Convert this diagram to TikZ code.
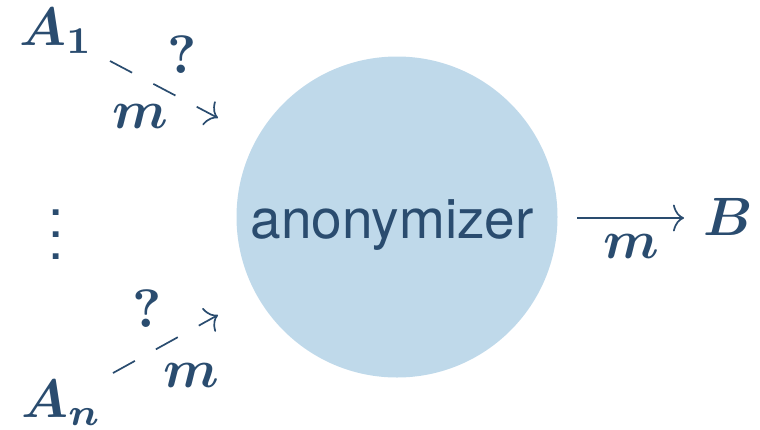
\documentclass[tikz,border=0pt]{standalone}
\usepackage{fontspec}
\newfontfamily\heros{TeX Gyre Heros}
\usetikzlibrary{arrows.meta}
\definecolor{ink}{RGB}{42,76,111}
\definecolor{bubble}{RGB}{191,217,234}
\tikzset{
  mathlbl/.style={inner sep=0pt, text=ink, scale=5.4,
    font=\fontsize{10}{12}\selectfont\boldmath},
  flow/.style={draw=ink, line width=1.7pt,
    -{Computer Modern Rightarrow[length=11pt,width=27pt]}},
  guess/.style={flow, dash pattern=on 25pt off 24pt},
}
\begin{document}
\begin{tikzpicture}[x=1pt,y=-1pt]
  \useasboundingbox (0,0) rectangle (760,429);

  % the anonymizing mix
  \node[circle, fill=bubble, minimum size=321pt, inner sep=0pt] (anon) at (397,217) {};
  \node[inner sep=0pt, anchor=base, text=ink, font=\heros\fontsize{55}{60}\selectfont]
    (anonlbl) at (392,238) {anonymizer};

  % senders and receiver
  \node[mathlbl, anchor=base west] (A1) at (18,45) {$A_1$};
  \node[mathlbl, anchor=base west] (An) at (20,417) {$A_n$};
  \node[mathlbl, anchor=base west] (B) at (702,235) {$B$};
  \node[inner sep=0pt, align=center, text=ink, font=\heros\fontsize{55}{22}\selectfont]
    (dots) at (56,235) {.\\.\\.};

  % message paths
  \coordinate (s1) at (110,61);  \coordinate (t1) at (218,118);
  \coordinate (s2) at (113,373); \coordinate (t2) at (218,315);
  \coordinate (s3) at (577,218); \coordinate (t3) at (684,218);
  \draw[guess] (s1) -- (t1);
  \draw[guess] (s2) -- (t2);
  \draw[flow] (s3) -- (t3);

  % labels on the paths
  \node[mathlbl, anchor=base] (q1) at (182,73) {$?$};
  \node[mathlbl, anchor=base west] (m1) at (111,128) {$m$};
  \node[mathlbl, anchor=base] (q2) at (147,327) {$?$};
  \node[mathlbl, anchor=base west] (m2) at (162,387) {$m$};
  \node[mathlbl, anchor=base west] (m3) at (602,258) {$m$};
\end{tikzpicture}
\end{document}
